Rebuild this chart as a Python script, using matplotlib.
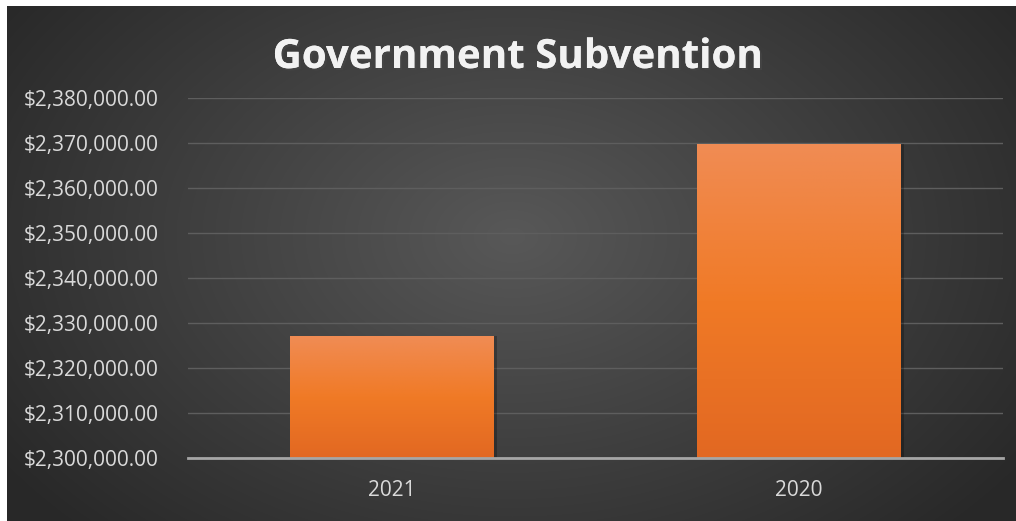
import numpy as np
import matplotlib.pyplot as plt
import matplotlib.patheffects as pe
from matplotlib.ticker import FuncFormatter

years = ['2021', '2020']
subvention = [2327000, 2369700]
title = 'Government Subvention'

W, H = 1016, 521
fig = plt.figure(figsize=(W / 100, H / 100), dpi=100)
fig.patch.set_facecolor('white')

# background panel with radial gradient
bg = fig.add_axes([7 / W, 0, 1 - 7 / W, 1 - 6 / H])
bg.set_axis_off()
yy, xx = np.mgrid[0:515, 0:1009]
cx, cy = 505, 230
d = np.sqrt(((xx - cx) / 620) ** 2 + ((yy - cy) / 420) ** 2)
d = np.clip(d, 0, 1)
c0 = np.array([0x58, 0x58, 0x58]) / 255
c1 = np.array([0x28, 0x28, 0x28]) / 255
img = c0[None, None, :] * (1 - d[..., None]) + c1[None, None, :] * d[..., None]
bg.imshow(img, aspect='auto', extent=[0, 1, 0, 1], origin='upper')

ax = fig.add_axes([188 / W, 1 - 458 / H, (1003 - 188) / W, (458 - 98) / H])
ax.patch.set_alpha(0)

x = np.arange(len(years))
bars = ax.bar(x, subvention, width=0.5, color='#ee7a30', zorder=3,
              edgecolor='none')
ax.set_xlim(-0.5, 1.5)
ax.set_ylim(2300000, 2380000)

# vertical gradient inside bars
grad = np.linspace(0, 1, 256)[:, None]
top = np.array([0xf0, 0x8c, 0x54]) / 255
mid = np.array([0xf0, 0x7a, 0x26]) / 255
bot = np.array([0xe2, 0x68, 0x22]) / 255
cols = np.where(grad[..., None] < 0.5,
                top + (mid - top) * (grad[..., None] / 0.5),
                mid + (bot - mid) * ((grad[..., None] - 0.5) / 0.5))
for b in bars:
    x0, w, h = b.get_x(), b.get_width(), b.get_height()
    # soft shadow
    ax.add_patch(plt.Rectangle((x0 + 0.008, 2300000), w, h - 2300000,
                               color='black', alpha=0.25, zorder=2, lw=0))
    im = ax.imshow(cols, extent=[x0, x0 + w, 2300000, h], aspect='auto',
                   zorder=4, origin='upper')
    im.set_clip_path(b)

ax.set_yticks(np.arange(2300000, 2380001, 10000))
ax.yaxis.set_major_formatter(FuncFormatter(lambda v, p: f'${v:,.2f}'))
ax.set_xticks(x)
ax.set_xticklabels(years)
ax.grid(axis='y', color='#5e5e5e', lw=1, zorder=0)
for s in ['top', 'right', 'left']:
    ax.spines[s].set_visible(False)
ax.spines['bottom'].set_color('#a6a6a6')
ax.spines['bottom'].set_linewidth(2)
ax.spines['bottom'].set_zorder(5)
ax.tick_params(axis='both', length=0, colors='#d9d9d9', labelsize=15,
               labelfontfamily='Open Sans')
ax.tick_params(axis='y', pad=21)
ax.tick_params(axis='x', pad=16)

fig.text(517 / W, 1 - 68 / H, title, ha='center', va='baseline',
         fontsize=29, fontweight='bold', color='#f2f2f2', family='Open Sans',
         path_effects=[pe.withSimplePatchShadow(offset=(1.5, -1.5), alpha=0.6),
                       pe.Normal()])

fig.savefig('out.png', dpi=100)
